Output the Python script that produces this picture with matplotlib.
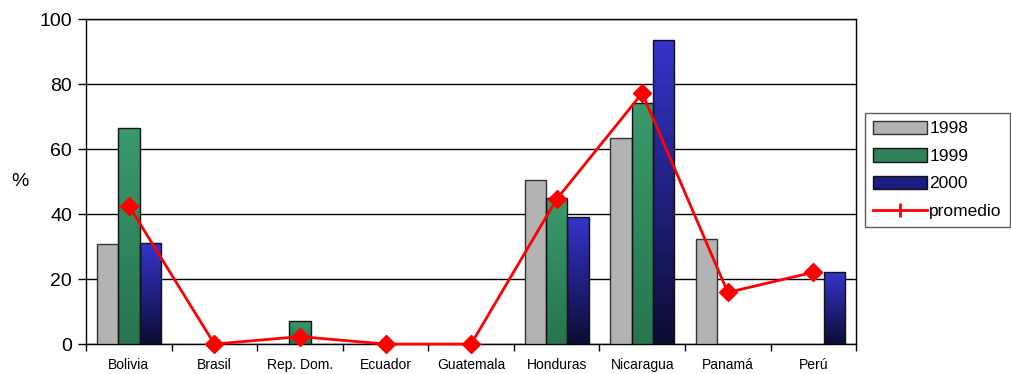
import numpy as np
import matplotlib
matplotlib.use("Agg")
import matplotlib.pyplot as plt
from matplotlib.colors import LinearSegmentedColormap
from matplotlib.patches import Patch
from matplotlib.lines import Line2D

plt.rcParams['font.family'] = ['Liberation Sans', 'DejaVu Sans']

countries = ["Bolivia", "Brasil", "Rep. Dom.", "Ecuador", "Guatemala",
             "Honduras", "Nicaragua", "Panamá", "Perú"]
v1998 = [30.7, None, None, None, None, 50.4, 63.5, 32.2, None]
v1999 = [66.4, None, 7.1, None, None, 44.8, 74.1, None, None]
v2000 = [31.0, None, None, None, None, 39.2, 93.7, None, 22.1]
promedio = [42.6, 0.0, 2.3, 0.0, 0.0, 44.6, 77.2, 15.9, 22.1]
y_ticks = [0, 20, 40, 60, 80, 100]

fig = plt.figure(figsize=(10.12, 3.74), dpi=100)
ax = fig.add_axes([0.085, 0.080, 0.761, 0.869])

x = np.arange(len(countries))
width = 0.25

green_cmap = LinearSegmentedColormap.from_list("g", ["#27744f", "#3a9a6b"])
blue_cmap = LinearSegmentedColormap.from_list("b", ["#0c0c35", "#3434cc"])
grad = np.linspace(0, 1, 256).reshape(-1, 1)

def draw_series(vals, offset, face, cmap, edge):
    for xi, v in zip(x, vals):
        if v is None:
            continue
        rect = ax.bar(xi + offset, v, width, color=face, edgecolor=edge,
                      linewidth=1.0, zorder=3)[0]
        if cmap is not None:
            rect.set_facecolor("none")
            x0 = xi + offset - width / 2
            img = ax.imshow(grad, extent=[x0, x0 + width, 0, v], origin="lower",
                            cmap=cmap, aspect="auto", zorder=2.9,
                            interpolation="bilinear")
            img.set_clip_path(rect)

draw_series(v1998, -width, "#b3b3b3", None, "#333333")
draw_series(v1999, 0, "none", green_cmap, "#111111")
draw_series(v2000, width, "none", blue_cmap, "#111111")

ax.plot(x, promedio, color="#ff0000", linewidth=2, marker="D",
        markersize=9, markerfacecolor="#ff0000", markeredgecolor="#ff0000",
        zorder=5, clip_on=False)

ax.set_xlim(-0.5, len(countries) - 0.5)
ax.set_ylim(0, 100)
ax.set_yticks(y_ticks)
ax.set_yticklabels([str(t) for t in y_ticks], fontsize=14)
ax.yaxis.grid(True, color="black", linewidth=1, zorder=0)
ax.set_axisbelow(True)
ax.tick_params(axis="y", direction="out", length=6, width=1, pad=4)

ax.set_xticks(np.arange(len(countries) + 1) - 0.5)
ax.set_xticklabels([])
ax.set_xticks(x, minor=True)
ax.set_xticklabels(countries, minor=True, fontsize=10)
ax.tick_params(axis="x", which="major", direction="out", length=5, width=1)
ax.tick_params(axis="x", which="minor", length=0, pad=10)

for s in ax.spines.values():
    s.set_color("black")
    s.set_linewidth(1)

ax.set_ylabel("%", rotation=0, fontsize=14, va="center", ha="center")
ax.yaxis.set_label_coords(-0.0857, 0.50)

handles = [
    Patch(facecolor="#b3b3b3", edgecolor="#333333", label="1998"),
    Patch(facecolor="#2e8159", edgecolor="#111111", label="1999"),
    Patch(facecolor="#1c1c80", edgecolor="#111111", label="2000"),
    Line2D([0], [0], color="#ff0000", linewidth=2, marker="|",
           markersize=10, markeredgewidth=2, label="promedio"),
]
leg = fig.legend(handles=handles, loc="upper left",
                 bbox_to_anchor=(865 / 1012, 1 - 113 / 374),
                 fontsize=12.5, frameon=True, fancybox=False, shadow=False,
                 borderpad=0.45, labelspacing=0.68, handlelength=3.1,
                 handleheight=0.8, handletextpad=0.15, borderaxespad=0)
leg.get_frame().set_edgecolor("#333333")
leg.get_frame().set_linewidth(1)

fig.savefig("out.png", dpi=100)
